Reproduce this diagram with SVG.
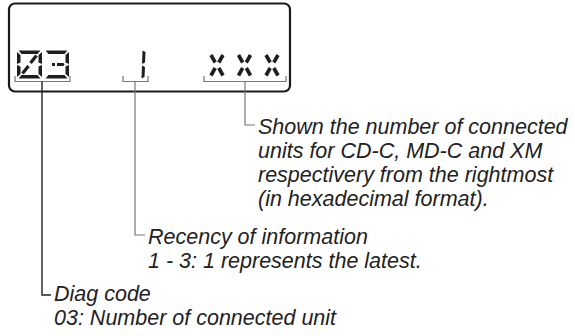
<svg xmlns="http://www.w3.org/2000/svg" width="575" height="336" viewBox="0 0 575 336">
<defs>
<style>
.lcd{fill:none;stroke:#1a1a1a;stroke-width:2.2}
.seg{fill:#1e1e1e}
.dg{stroke:#1e1e1e;stroke-width:3.2;stroke-linecap:butt;fill:none}
.dx{stroke:#1e1e1e;stroke-width:3.6;stroke-linecap:butt;fill:none}
.br{fill:none;stroke:#777;stroke-width:1.2}
.ld{fill:none;stroke:#777;stroke-width:1.2}
.ldk{fill:none;stroke:#222;stroke-width:1.4}
.t{font-family:"Liberation Sans",Arial,sans-serif;font-style:italic;font-size:21.5px;fill:#222}
</style>
</defs>
<rect width="575" height="336" fill="#fff"/>
<g id="lcd-display">
<rect class="lcd" x="9" y="3.5" width="281" height="88" rx="6"/>
<g id="digit-0" class="seg" transform="translate(17,50.5)">
<polygon points="1.5,0 23.5,0 20.5,3.5 4.5,3.5"/>
<polygon points="0,1.5 3.5,4.5 3.5,12 0,13.5"/>
<polygon points="25,1.5 21.5,4.5 21.5,12 25,13.5"/>
<polygon points="0,14.5 3.5,16 3.5,23.5 0,26.5"/>
<polygon points="25,14.5 21.5,16 21.5,23.5 25,26.5"/>
<polygon points="4.5,24.5 20.5,24.5 23.5,28 1.5,28"/>
<line class="dg" x1="19.5" y1="5" x2="13.5" y2="12.5"/>
<line class="dg" x1="11.5" y1="15.5" x2="5.5" y2="23"/>
</g>
<g id="digit-3" class="seg" transform="translate(44,50.5)">
<polygon points="1.5,0 23.5,0 20.5,3.5 4.5,3.5"/>
<polygon points="25,1.5 21.5,4.5 21.5,12 25,13.5"/>
<polygon points="25,14.5 21.5,16 21.5,23.5 25,26.5"/>
<polygon points="4.5,24.5 20.5,24.5 23.5,28 1.5,28"/>
<rect x="8" y="12.5" width="3" height="3"/>
<polygon points="13,12.5 19.5,12.5 20.5,14 19.5,15.5 13,15.5"/>
</g>
<g id="digit-1" class="seg" transform="translate(141,50.5)">
<polygon points="1.5,0 4.5,1.5 4,12 1,13.5"/>
<polygon points="1,15 4,16.5 3.5,26.5 0.5,28"/>
</g>
<g id="digit-x1" transform="translate(210,55)">
<line class="dx" x1="1" y1="0" x2="5.2" y2="7.5"/>
<line class="dx" x1="13" y1="0" x2="8.8" y2="7.5"/>
<line class="dx" x1="5.2" y1="13" x2="1" y2="20.5"/>
<line class="dx" x1="8.8" y1="13" x2="13" y2="20.5"/>
</g>
<g id="digit-x2" transform="translate(237.5,55)">
<line class="dx" x1="1" y1="0" x2="5.2" y2="7.5"/>
<line class="dx" x1="13" y1="0" x2="8.8" y2="7.5"/>
<line class="dx" x1="5.2" y1="13" x2="1" y2="20.5"/>
<line class="dx" x1="8.8" y1="13" x2="13" y2="20.5"/>
</g>
<g id="digit-x3" transform="translate(265,55)">
<line class="dx" x1="1" y1="0" x2="5.2" y2="7.5"/>
<line class="dx" x1="13" y1="0" x2="8.8" y2="7.5"/>
<line class="dx" x1="5.2" y1="13" x2="1" y2="20.5"/>
<line class="dx" x1="8.8" y1="13" x2="13" y2="20.5"/>
</g>
</g>
<g id="connectors">
<polyline class="br" points="15,76 15,81.5 70,81.5 70,76"/>
<polyline class="br" points="123,76 123,81.5 148,81.5 148,76"/>
<polyline class="br" points="204,76 204,81.5 286,81.5 286,76"/>
<polyline class="ldk" points="42,81.5 42,295 51,295"/>
<polyline class="ld" points="135,81.5 135,235 145,235"/>
<polyline class="ld" points="245,81.5 245,125 255,125"/>
</g>
<g id="label-shown" class="t">
<text x="258" y="134">Shown the number of connected</text>
<text x="258" y="158">units for CD-C, MD-C and XM</text>
<text x="258" y="182">respectivery from the rightmost</text>
<text x="258" y="206">(in hexadecimal format).</text>
</g>
<g id="label-recency" class="t">
<text x="148" y="244">Recency of information</text>
<text x="148" y="268">1 - 3: 1 represents the latest.</text>
</g>
<g id="label-diag" class="t">
<text x="54" y="301">Diag code</text>
<text x="54" y="325">03: Number of connected unit</text>
</g>
</svg>
